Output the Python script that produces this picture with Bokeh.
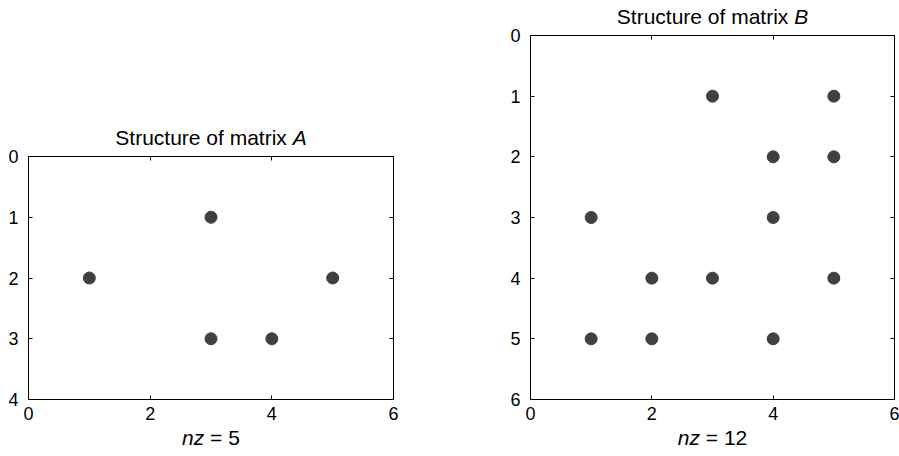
from bokeh.plotting import figure
from bokeh.models import Range1d, LinearAxis, FixedTicker, CustomJSTickFormatter, Label, Spacer
from bokeh.layouts import row, column
from bokeh.embed import file_html
from bokeh.resources import INLINE

# Matrix A: column (x) and row (y) indices of nonzeros
a_cols = [1, 3, 3, 4, 5]
a_rows = [2, 1, 3, 3, 2]
a_nz = 5
a_name = "A"
a_xticks = [0, 2, 4, 6]
a_yticks = [0, 1, 2, 3, 4]

# Matrix B
b_cols = [3, 5, 4, 5, 1, 4, 2, 3, 5, 1, 2, 4]
b_rows = [1, 1, 2, 2, 3, 3, 4, 4, 4, 5, 5, 5]
b_nz = 12
b_name = "B"
b_xticks = [0, 2, 4, 6]
b_yticks = [0, 1, 2, 3, 4, 5, 6]

FONT = "Liberation Sans"
TICK_FS = 18
LABEL_FS = 21
DOT = "#404040"


def text_width(s, fs):
    w = {'S': 667, 't': 278, 'r': 333, 'u': 556, 'c': 500, 'e': 556, ' ': 278,
         'o': 556, 'f': 278, 'm': 833, 'a': 556, 'i': 222, 'x': 500, 'A': 667,
         'B': 667, 'n': 556, 'z': 500, '=': 584}
    return sum(w.get(ch, 556) for ch in s) * fs / 1000.0


def spy(cols, rows, nz, name, xticks, yticks, width, height, bl, br, bt, bb, panels):
    xmax = xticks[-1]
    ymax = yticks[-1]
    p = figure(width=width, height=height, output_backend="svg", toolbar_location=None,
               x_range=Range1d(0, xmax), y_range=Range1d(ymax, 0),
               min_border_left=bl, min_border_right=br, min_border_top=bt,
               min_border_bottom=bb, x_axis_location=None, y_axis_location=None)
    p.grid.visible = False
    p.background_fill_color = "white"
    p.border_fill_color = "white"
    p.outline_line_color = "black"

    for loc, dim in (("below", "x"), ("left", "y"), ("above", "x"), ("right", "y")):
        ax = LinearAxis(ticker=FixedTicker(ticks=xticks if dim == "x" else yticks))
        ax.major_tick_in = 4
        ax.major_tick_out = 0
        ax.minor_tick_line_color = None
        ax.axis_line_color = "black"
        ax.major_tick_line_color = "black"
        ax.major_label_text_font = FONT
        ax.major_label_text_color = "black"
        if loc == "below":
            ax.major_label_text_font_size = f"{TICK_FS}px"
            ax.major_label_standoff = 7
        elif loc == "left":
            ax.major_label_text_font_size = f"{TICK_FS}px"
            ax.major_label_standoff = 10
        else:
            ax.formatter = CustomJSTickFormatter(code="return ''")
            ax.major_label_text_font_size = "0px"
            ax.major_label_standoff = 0
        p.add_layout(ax, loc)

    p.scatter(cols, rows, size=12, color=DOT, line_color=DOT)

    frame_w = width - bl - br
    frame_h = height - bt - bb
    sp = text_width(" ", LABEL_FS)
    common = dict(text_baseline="alphabetic", text_font=FONT,
                  text_font_size=f"{LABEL_FS}px", text_color="black",
                  x_units="canvas", y_units="canvas")

    # title: "Structure of matrix " + italic name (canvas units)
    s1 = "Structure of matrix"
    w1 = text_width(s1, LABEL_FS) + sp
    w2 = text_width(name, LABEL_FS)
    split = bl + frame_w / 2 - (w1 + w2) / 2 + w1
    ty = bt - 19
    p.add_layout(Label(x=split - sp, y=ty, text=s1, text_align="right", **common),
                 panels["title"])
    p.add_layout(Label(x=split, y=ty, text=name, text_align="left",
                       text_font_style="italic", **common), panels["name"])

    # xlabel: italic "nz" + " = N"
    l1 = "nz"
    l2 = f"= {nz}"
    v1 = text_width(l1, LABEL_FS)
    v2 = text_width(l2, LABEL_FS) + sp
    xs = bl + frame_w / 2 - (v1 + v2) / 2 + v1
    ly = bt + frame_h + 38
    p.add_layout(Label(x=xs, y=ly, text=l1, text_align="right",
                       text_font_style="italic", **common), panels["nz"])
    p.add_layout(Label(x=xs + sp, y=ly, text=l2, text_align="left", **common),
                 panels["count"])
    return p


pa = spy(a_cols, a_rows, a_nz, a_name, a_xticks, a_yticks,
         width=460, height=355, bl=28, br=67, bt=56, bb=56,
         panels={"title": "above", "name": "above", "nz": "right", "count": "below"})
pb = spy(b_cols, b_rows, b_nz, b_name, b_xticks, b_yticks,
         width=439, height=455, bl=70, br=5, bt=35, bb=56,
         panels={"title": "above", "name": "left", "nz": "left", "count": "below"})

layout = row(column(Spacer(width=460, height=100), pa), pb)
open("out.html", "w").write(file_html(layout, INLINE))
